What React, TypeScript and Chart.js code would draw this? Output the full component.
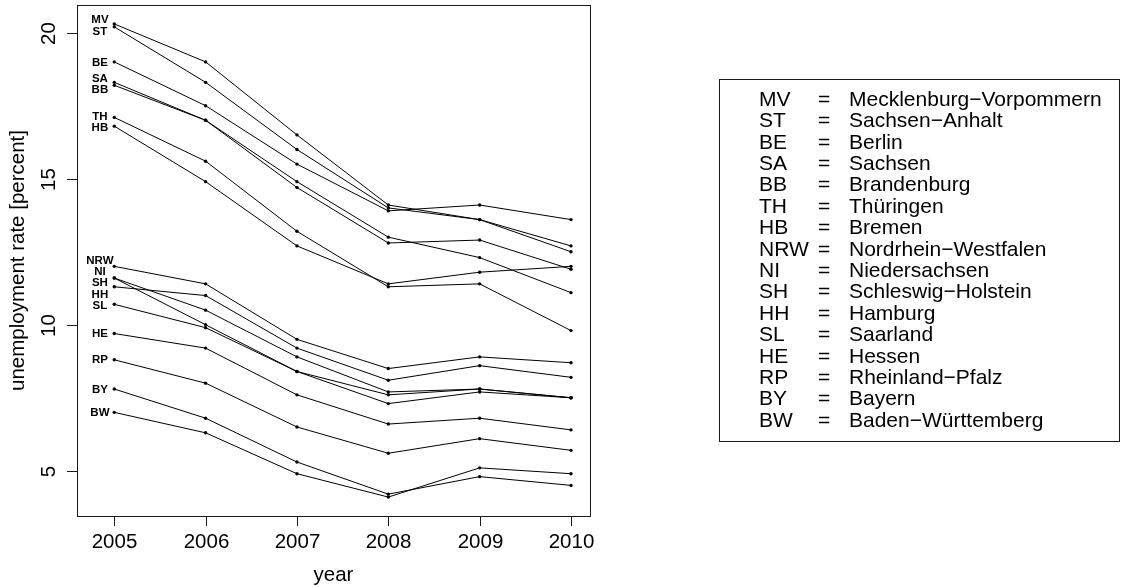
import React, { useEffect, useRef } from "react";
import { Chart, registerables } from "chart.js";

Chart.register(...registerables);

// Unemployment rate (percent) of the German federal states, 2005–2010
const years = [2005, 2006, 2007, 2008, 2009, 2010];

const states = ["MV", "ST", "BE", "SA", "BB", "TH", "HB", "NRW", "NI", "SH", "HH", "SL", "HE", "RP", "BY", "BW"];
const stateNames = [
  "Mecklenburg\u2212Vorpommern",
  "Sachsen\u2212Anhalt",
  "Berlin",
  "Sachsen",
  "Brandenburg",
  "Thüringen",
  "Bremen",
  "Nordrhein\u2212Westfalen",
  "Niedersachsen",
  "Schleswig\u2212Holstein",
  "Hamburg",
  "Saarland",
  "Hessen",
  "Rheinland\u2212Pfalz",
  "Bayern",
  "Baden\u2212Württemberg",
];

const MV = [20.3, 19.0, 16.5, 14.1, 13.6, 12.7];
const ST = [20.2, 18.3, 16.0, 14.0, 13.6, 12.5];
const BE = [19.0, 17.5, 15.5, 13.9, 14.1, 13.6];
const SA = [18.3, 17.0, 14.7, 12.8, 12.9, 11.9];
const BB = [18.2, 17.0, 14.9, 13.0, 12.3, 11.1];
const TH = [17.1, 15.6, 13.2, 11.3, 11.4, 9.8];
const HB = [16.8, 14.9, 12.7, 11.4, 11.8, 12.0];
const NRW = [12.0, 11.4, 9.5, 8.5, 8.9, 8.7];
const NI = [11.6, 10.5, 8.9, 7.7, 7.8, 7.5];
const SH = [11.6, 10.0, 8.4, 7.6, 7.8, 7.5];
const HH = [11.3, 11.0, 9.2, 8.1, 8.6, 8.2];
const SL = [10.7, 9.9, 8.4, 7.3, 7.7, 7.5];
const HE = [9.7, 9.2, 7.6, 6.6, 6.8, 6.4];
const RP = [8.8, 8.0, 6.5, 5.6, 6.1, 5.7];
const BY = [7.8, 6.8, 5.3, 4.2, 4.8, 4.5];
const BW = [7.0, 6.3, 4.9, 4.1, 5.1, 4.9];

const series = [MV, ST, BE, SA, BB, TH, HB, NRW, NI, SH, HH, SL, HE, RP, BY, BW];

const xTicks = [2005, 2006, 2007, 2008, 2009, 2010];
const yTicks = [5, 10, 15, 20];

const xTitle = "year";
const yTitle = "unemployment rate [percent]";

const FONT = "'Liberation Sans', Arial, Helvetica, sans-serif";

// Push overlapping start labels apart: overlapping groups are centred on the
// mean of their values and spaced by `gap` (in data units).
function spreadLabels(values: number[], gap: number): number[] {
  const order = values.map((v, i) => i).sort((a, b) => values[b] - values[a]);
  let clusters = order.map((i) => ({ members: [i], center: values[i] }));
  const top = (c: any) => c.center + (gap * (c.members.length - 1)) / 2;
  const bottom = (c: any) => c.center - (gap * (c.members.length - 1)) / 2;
  let merged = true;
  while (merged) {
    merged = false;
    for (let k = 0; k < clusters.length - 1; k++) {
      const a = clusters[k];
      const b = clusters[k + 1];
      if (bottom(a) - top(b) < gap - 1e-9) {
        const members = a.members.concat(b.members);
        const center = members.reduce((s, i) => s + values[i], 0) / members.length;
        clusters.splice(k, 2, { members, center });
        merged = true;
        break;
      }
    }
  }
  const out = new Array(values.length).fill(0);
  clusters.forEach((c) => {
    const n = c.members.length;
    c.members.forEach((idx, k) => {
      out[idx] = c.center + gap * ((n - 1) / 2 - k);
    });
  });
  return out;
}

const decorations = {
  id: "rDecorations",
  afterDatasetsDraw(chart: any) {
    const { ctx, chartArea, scales } = chart;
    const xs = scales.x;
    const ys = scales.y;
    const { left, right, top, bottom } = chartArea;
    ctx.save();

    // plot frame
    ctx.strokeStyle = "#1a1a1a";
    ctx.lineWidth = 1;
    ctx.strokeRect(Math.round(left) + 0.5, Math.round(top) + 0.5, Math.round(right - left), Math.round(bottom - top));

    // x axis ticks and labels
    ctx.fillStyle = "#000";
    ctx.font = `20.5px ${FONT}`;
    ctx.textAlign = "center";
    ctx.textBaseline = "middle";
    xTicks.forEach((t) => {
      const px = Math.round(xs.getPixelForValue(t)) + 0.5;
      ctx.beginPath();
      ctx.moveTo(px, Math.round(bottom));
      ctx.lineTo(px, Math.round(bottom) + 10);
      ctx.stroke();
      ctx.fillText(String(t), px, bottom + 26);
    });

    // y axis ticks and rotated labels
    yTicks.forEach((t) => {
      const py = Math.round(ys.getPixelForValue(t)) + 0.5;
      ctx.beginPath();
      ctx.moveTo(Math.round(left), py);
      ctx.lineTo(Math.round(left) - 10, py);
      ctx.stroke();
      ctx.save();
      ctx.translate(left - 28, py);
      ctx.rotate(-Math.PI / 2);
      ctx.fillText(String(t), 0, 0);
      ctx.restore();
    });

    // axis titles
    ctx.fillText(xTitle, (left + right) / 2, bottom + 59);
    ctx.save();
    ctx.translate(left - 59, (top + bottom) / 2);
    ctx.rotate(-Math.PI / 2);
    ctx.fillText(yTitle, 0, 0);
    ctx.restore();

    // state abbreviations next to the first year
    const first = series.map((s) => s[0]);
    const labelY = spreadLabels(first, 0.39);
    ctx.font = `bold 11.5px ${FONT}`;
    const lx = xs.getPixelForValue(years[0] - 0.157);
    states.forEach((s, i) => {
      ctx.fillText(s, lx, ys.getPixelForValue(labelY[i]) + 0.5);
    });

    // key of abbreviations
    const boxL = 719.5;
    const boxR = 1119.5;
    const boxT = 79.5;
    const rowH = 21.4;
    const firstRow = 100;
    const boxB = Math.round(firstRow + rowH * (states.length - 1) + 20) + 0.5;
    ctx.strokeRect(boxL, boxT, boxR - boxL, boxB - boxT);
    ctx.font = `21px ${FONT}`;
    ctx.textAlign = "left";
    states.forEach((s, i) => {
      const y = firstRow + rowH * i;
      ctx.fillText(s, 759, y);
      ctx.fillText("=", 818, y);
      ctx.fillText(stateNames[i], 849, y);
    });

    ctx.restore();
  },
};

export default function App() {
  const canvasRef = useRef<HTMLCanvasElement | null>(null);

  useEffect(() => {
    const canvas = canvasRef.current;
    if (!canvas) return;
    const chart = new Chart(canvas, {
      type: "line",
      data: {
        datasets: series.map((vals, i) => ({
          label: states[i],
          data: vals.map((v, j) => ({ x: years[j], y: v })),
          borderColor: "#000",
          backgroundColor: "#000",
          borderWidth: 1,
          pointRadius: 1.7,
          pointBorderWidth: 0,
          pointBackgroundColor: "#000",
          tension: 0,
          fill: false,
        })),
      },
      options: {
        responsive: false,
        animation: false,
        devicePixelRatio: 1,
        layout: { padding: { left: 77, right: 537, top: 5, bottom: 71 } },
        plugins: {
          legend: { display: false },
          tooltip: { enabled: false },
        },
        scales: {
          x: { type: "linear", min: 2004.592, max: 2010.208, display: false },
          y: { type: "linear", min: 3.452, max: 20.948, display: false },
        },
      },
      plugins: [decorations],
    });
    return () => chart.destroy();
  }, []);

  return (
    <div style={{ position: "absolute", left: 0, top: 0, width: 1127, height: 587, background: "#fff" }}>
      <canvas ref={canvasRef} width={1127} height={587} style={{ display: "block" }} />
    </div>
  );
}
